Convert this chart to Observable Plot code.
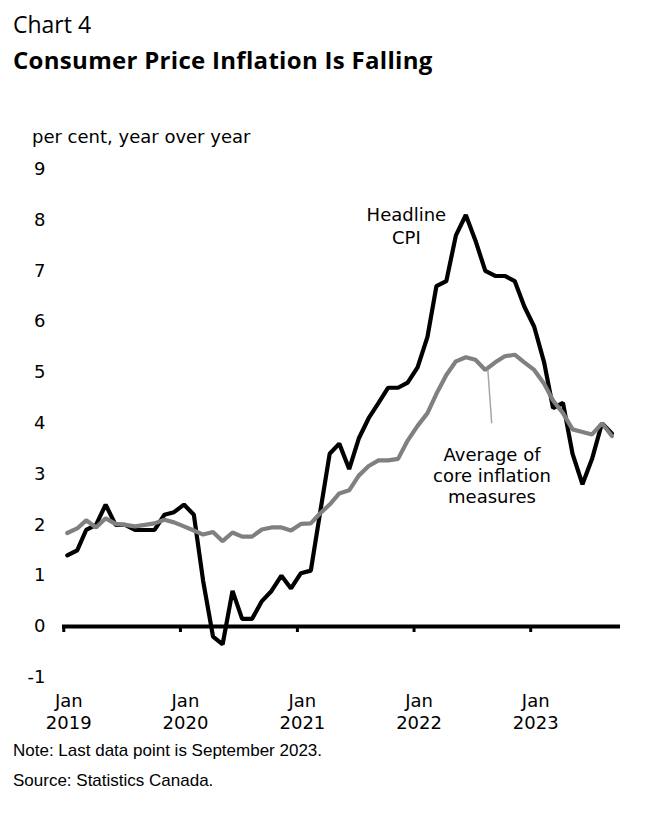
<!DOCTYPE html>
<html><head><meta charset="utf-8">
<script src="https://cdn.jsdelivr.net/npm/d3@7"></script>
<script src="https://cdn.jsdelivr.net/npm/@observablehq/plot@0.6"></script>
<style>
body{margin:0;background:#fff;width:657px;height:822px;position:relative;overflow:hidden;color:#000}
.abs{position:absolute;white-space:nowrap}
#t1{left:13px;top:9px;font:400 23px/30px "Open Sans",sans-serif}
#t2{left:13px;top:45px;font:700 24px/30px "Open Sans",sans-serif;letter-spacing:0.3px}
#ylab{left:32px;top:128px;font:400 18px/18px "DejaVu Sans",sans-serif}
#note{left:13px;top:741px;font:400 17px/20px "Liberation Sans Narrow","Arial Narrow",sans-serif}
#src{left:13px;top:771px;font:400 17px/20px "Liberation Sans Narrow","Arial Narrow",sans-serif}
#chart{position:absolute;left:0;top:100px}
</style></head>
<body>
<div class="abs" id="t1">Chart 4</div>
<div class="abs" id="t2">Consumer Price Inflation Is Falling</div>
<div class="abs" id="ylab">per cent, year over year</div>
<div id="chart"></div>
<div class="abs" id="note">Note: Last data point is September 2023.</div>
<div class="abs" id="src">Source: Statistics Canada.</div>
<script>
// Monthly, January 2019 to September 2023
const startMonth = new Date(Date.UTC(2019, 0, 1));
const endMonth = new Date(Date.UTC(2023, 9, 1));
const months = d3.utcMonth.range(startMonth, endMonth);

const headline = [
  1.4, 1.5, 1.9, 2.0, 2.4, 2.0, 2.0, 1.9, 1.9, 1.9, 2.2, 2.25,
  2.4, 2.2, 0.9, -0.2, -0.35, 0.7, 0.15, 0.15, 0.5, 0.7, 1.0, 0.75,
  1.05, 1.1, 2.2, 3.4, 3.6, 3.1, 3.7, 4.1, 4.4, 4.7, 4.7, 4.8,
  5.1, 5.7, 6.7, 6.8, 7.7, 8.1, 7.6, 7.0, 6.9, 6.9, 6.8, 6.3,
  5.9, 5.2, 4.3, 4.4, 3.4, 2.8, 3.3, 4.0, 3.8
];
const core = [
  1.84, 1.93, 2.09, 1.95, 2.13, 2.02, 2.0, 1.97, 2.0, 2.03, 2.1, 2.05,
  1.97, 1.89, 1.81, 1.86, 1.68, 1.85, 1.77, 1.77, 1.91, 1.95, 1.95, 1.89,
  2.02, 2.03, 2.22, 2.4, 2.62, 2.68, 2.97, 3.16, 3.27, 3.27, 3.3, 3.66,
  3.95, 4.2, 4.58, 4.95, 5.22, 5.3, 5.25, 5.05, 5.2, 5.32, 5.35, 5.2,
  5.05, 4.78, 4.45, 4.2, 3.88, 3.83, 3.78, 4.0, 3.75
];
const yTicks = [-1, 0, 1, 2, 3, 4, 5, 6, 7, 8, 9];
const xTicks = [2019, 2020, 2021, 2022, 2023].map(y => new Date(Date.UTC(y, 0, 1)));
const xTickLabels = ["Jan\n2019", "Jan\n2020", "Jan\n2021", "Jan\n2022", "Jan\n2023"];

// monthly values drawn a little into their month, as in the original
const data = months.map((date, i) => ({date: d3.utcDay.offset(date, 11), headline: headline[i], core: core[i]}));

const fontFam = '"DejaVu Sans", sans-serif';
const chart = Plot.plot({
  width: 657,
  height: 647,
  marginTop: 68.8,
  marginBottom: 70.2,
  marginLeft: 62,
  marginRight: 37,
  x: {type: "utc", domain: [new Date(Date.UTC(2018, 11, 28)), new Date(Date.UTC(2023, 9, 9))]},
  y: {domain: [-1, 9]},
  style: {fontFamily: fontFam, fontSize: "18px", color: "#000", background: "transparent"},
  marks: [
    Plot.axisY({ticks: yTicks, tickSize: 0, tickPadding: 17, label: null, fontSize: 18, tickFormat: d => String(d)}),
    Plot.axisX({ticks: xTicks, tickSize: 0, tickPadding: 14, label: null, fontSize: 18, lineHeight: 1.22, dx: 5,
      tickFormat: d => xTickLabels[xTicks.findIndex(t => +t === +d)]}),
    Plot.ruleY([0], {stroke: "#000", strokeWidth: 4}),
    Plot.ruleX(xTicks, {x: d => d, y1: 0, y2: 0, insetBottom: -6, stroke: "#000", strokeWidth: 3}),
    Plot.line(data, {x: "date", y: "headline", stroke: "#000", strokeWidth: 4.2, strokeLinejoin: "miter"}),
    Plot.line(data, {x: "date", y: "core", stroke: "#808080", strokeWidth: 4.2, strokeLinejoin: "miter"}),
    Plot.link([{x1: new Date(Date.UTC(2022, 7, 20)), y1: 5.05, x2: new Date(Date.UTC(2022, 8, 1)), y2: 4.0}],
      {x1: "x1", y1: "y1", x2: "x2", y2: "y2", stroke: "#a6a6a6", strokeWidth: 1.5}),
    Plot.text([{x: new Date(Date.UTC(2021, 11, 8)), y: 7.9, t: "Headline\nCPI"}],
      {x: "x", y: "y", text: "t", fontSize: 18, lineHeight: 1.3, textAnchor: "middle", lineAnchor: "middle", fill: "#000"}),
    Plot.text([{x: new Date(Date.UTC(2022, 8, 2)), y: 2.97, t: "Average of\ncore inflation\nmeasures"}],
      {x: "x", y: "y", text: "t", fontSize: 18, lineHeight: 1.17, textAnchor: "middle", lineAnchor: "middle", fill: "#000"})
  ]
});
document.getElementById("chart").appendChild(chart);
</script>
</body></html>
